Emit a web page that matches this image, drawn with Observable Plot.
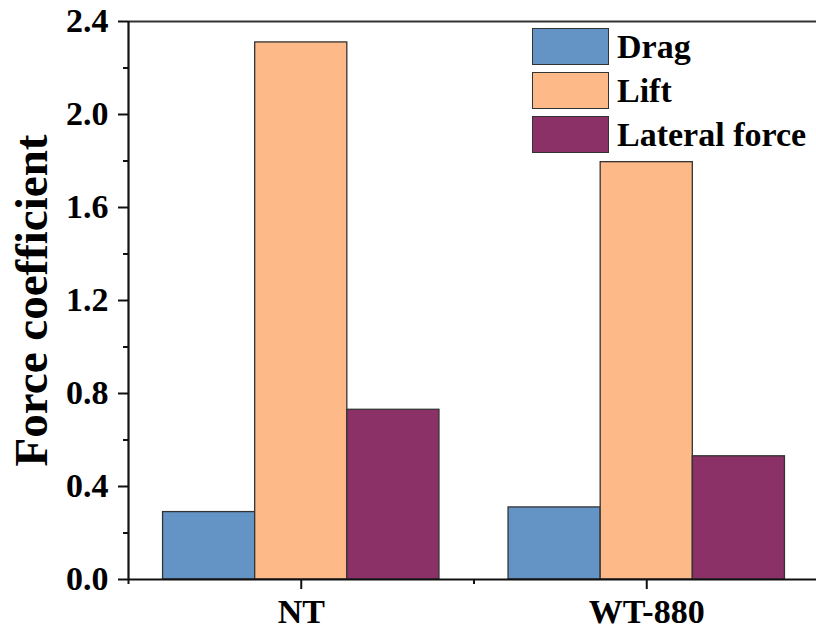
<!DOCTYPE html>
<html>
<head>
<meta charset="utf-8">
<script src="https://cdn.jsdelivr.net/npm/d3@7"></script>
<script src="https://cdn.jsdelivr.net/npm/@observablehq/plot@0.6"></script>
<style>
  html, body { margin: 0; padding: 0; background: #fff; }
  #wrap { position: relative; width: 816px; height: 632px; overflow: hidden; font-family: "Liberation Serif", "Times New Roman", serif; }
  #legend { position: absolute; left: 532px; top: 28px; }
  .item { display: flex; align-items: center; height: 37px; margin-bottom: 7px; }
  .sw { width: 75px; height: 35px; border: 1.3px solid #333; box-sizing: content-box; }
  .lb { margin-left: 8px; font-size: 34px; font-weight: bold; color: #000; white-space: nowrap; line-height: 1; }
</style>
</head>
<body>
<div id="wrap"><div id="legend"></div></div>
<script>
const groups = ["NT", "WT-880"];
const series = ["Drag", "Lift", "Lateral force"];
const colors = ["#6394c5", "#fdba88", "#8b3167"];
const drag = [0.29, 0.31];
const lift = [2.31, 1.795];
const lateral = [0.73, 0.53];
const yTicks = [0.0, 0.4, 0.8, 1.2, 1.6, 2.0, 2.4];
const yMinor = [0.2, 0.6, 1.0, 1.4, 1.8, 2.2];

const valuesBySeries = [drag, lift, lateral];
const data = [];
groups.forEach((g, gi) => {
  series.forEach((s, si) => {
    data.push({group: g, gi, series: s, si, value: valuesBySeries[si][gi]});
  });
});

const groupWidth = 0.8;
const barW = groupWidth / series.length;
const font = "'Liberation Serif', 'Times New Roman', serif";

const chart = Plot.plot({
  width: 816,
  height: 632,
  marginLeft: 128,
  marginRight: 0,
  marginTop: 21,
  marginBottom: 53,
  style: {fontFamily: font, fontWeight: "bold", background: "transparent"},
  x: {domain: [0.5, 2.5], range: [128, 819], axis: null},
  y: {domain: [0, 2.4], axis: null},
  color: {domain: series, range: colors},
  marks: [
    Plot.rectY(data, {
      x1: d => d.gi + 1 - groupWidth / 2 + d.si * barW,
      x2: d => d.gi + 1 - groupWidth / 2 + (d.si + 1) * barW,
      y1: 0,
      y2: "value",
      fill: "series",
      stroke: "#333",
      strokeWidth: 1.3
    }),
    Plot.ruleY([2.4], {stroke: "#333", strokeWidth: 2.2}),
    Plot.ruleX([0.5], {stroke: "#111", strokeWidth: 2.2}),
    Plot.ruleY([0], {stroke: "#111", strokeWidth: 2.2}),
    Plot.axisY({ticks: yTicks, tickSize: 10, tickPadding: 10, tickFormat: d3.format(".1f"), fontSize: 34, fontWeight: "bold", fill: "#000", stroke: "#111", strokeWidth: 2, label: null}),
    Plot.axisY({ticks: yMinor, tickSize: 5, tickFormat: () => "", stroke: "#111", strokeWidth: 2, label: null}),
    Plot.axisX({ticks: [1, 2], tickSize: 10, tickPadding: 9, tickFormat: d => groups[d - 1], fontSize: 34, fontWeight: "bold", fill: "#000", stroke: "#111", strokeWidth: 2, label: null}),
    Plot.axisX({ticks: [0.5, 1.5, 2.5], tickSize: 5, tickFormat: () => "", stroke: "#111", strokeWidth: 2, label: null}),
    Plot.text(["Force coefficient"], {
      frameAnchor: "left",
      rotate: -90,
      dx: -97,
      fontSize: 47,
      fontWeight: "bold",
      fill: "#000",
      textAnchor: "middle",
      lineAnchor: "middle"
    })
  ]
});
document.getElementById("wrap").prepend(chart);

const legend = document.getElementById("legend");
series.forEach((s, i) => {
  const item = document.createElement("div");
  item.className = "item";
  const sw = document.createElement("div");
  sw.className = "sw";
  sw.style.background = colors[i];
  const lb = document.createElement("div");
  lb.className = "lb";
  lb.textContent = s;
  item.appendChild(sw);
  item.appendChild(lb);
  legend.appendChild(item);
});
</script>
</body>
</html>
